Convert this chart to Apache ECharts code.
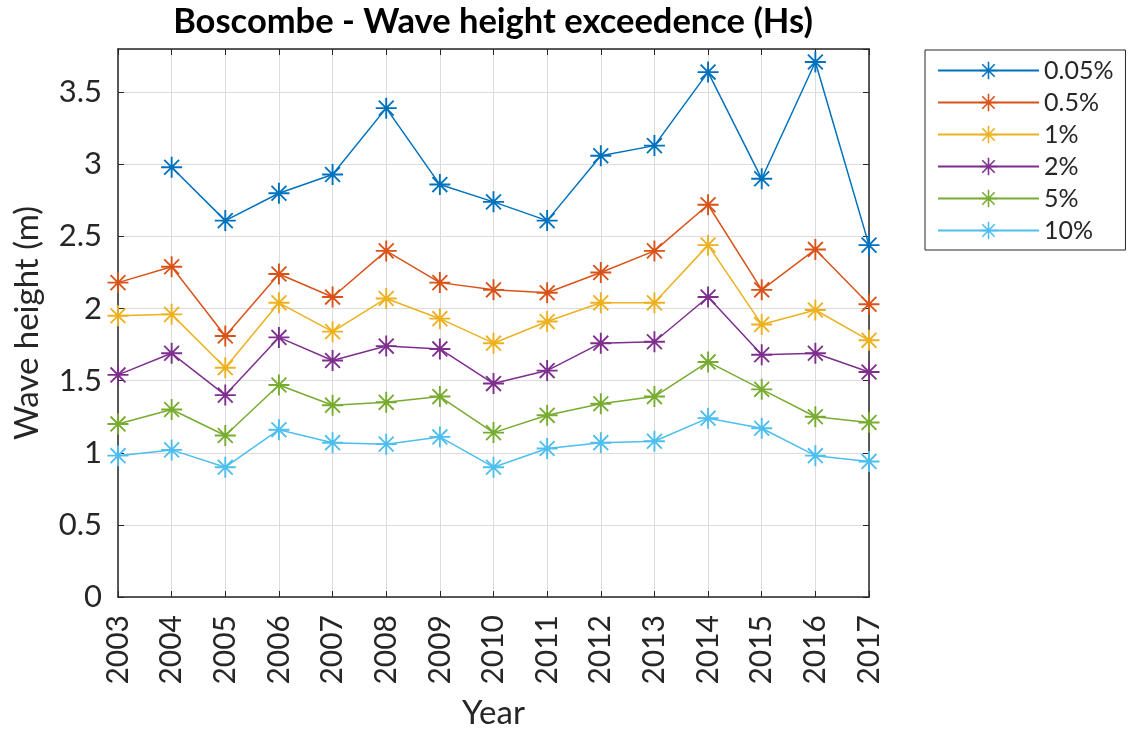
<!DOCTYPE html>
<html>
<head>
<meta charset="utf-8">
<script src="https://cdn.jsdelivr.net/npm/echarts@6/dist/echarts.min.js"></script>
<style>
html,body{margin:0;padding:0;background:#fff;}
#chart{width:1128px;height:735px;}
</style>
</head>
<body>
<div id="chart"></div>
<script>
const years = ['2003','2004','2005','2006','2007','2008','2009','2010','2011','2012','2013','2014','2015','2016','2017'];
const seriesNames = ['0.05%','0.5%','1%','2%','5%','10%'];
const s005 = [null,2.98,2.61,2.80,2.93,3.39,2.86,2.74,2.61,3.06,3.13,3.64,2.90,3.71,2.44];
const s05  = [2.18,2.29,1.81,2.24,2.08,2.40,2.18,2.13,2.11,2.25,2.40,2.72,2.13,2.41,2.03];
const s1   = [1.95,1.96,1.59,2.04,1.84,2.07,1.93,1.76,1.91,2.04,2.04,2.44,1.89,1.99,1.78];
const s2   = [1.54,1.69,1.40,1.80,1.64,1.74,1.72,1.48,1.57,1.76,1.77,2.08,1.68,1.69,1.56];
const s5   = [1.20,1.30,1.12,1.47,1.33,1.35,1.39,1.14,1.26,1.34,1.39,1.63,1.44,1.25,1.21];
const s10  = [0.98,1.02,0.90,1.16,1.07,1.06,1.11,0.90,1.03,1.07,1.08,1.24,1.17,0.98,0.94];
const allSeries = [s005, s05, s1, s2, s5, s10];
const colors = ['#0072BD','#D95319','#EDB120','#7E2F8E','#77AC30','#4DBEEE'];

const asterisk = 'path://M0 45.5 L0 54.5 L100 54.5 L100 45.5 Z M45.5 0 L45.5 100 L54.5 100 L54.5 0 Z M11.5 17.7 L82.3 88.5 L88.5 82.3 L17.7 11.5 Z M17.7 88.5 L88.5 17.7 L82.3 11.5 L11.5 82.3 Z';
const axisColor = '#262626';
const font = 'Lato';

const chart = echarts.init(document.getElementById('chart'), null, {renderer:'canvas'});
const option = {
  animation: false,
  backgroundColor: '#ffffff',
  title: {
    text: 'Boscombe - Wave height exceedence (Hs)',
    left: 493, top: 4, padding: 0, textAlign: 'center',
    textStyle: {fontFamily: font, fontWeight: 'bold', fontSize: 34.5, color: '#000'}
  },
  legend: {
    orient: 'vertical',
    left: 925, top: 50,
    padding: [8, 12, 7, 12],
    itemWidth: 101, itemHeight: 22, itemGap: 7,
    borderColor: axisColor, borderWidth: 1, backgroundColor: '#fff',
    textStyle: {fontFamily: font, fontSize: 25, color: axisColor},
    data: seriesNames
  },
  grid: {left: 118, right: 259, top: 49, bottom: 137, containLabel: false},
  xAxis: [{
    type: 'category', data: years, boundaryGap: false,
    name: 'Year', nameLocation: 'middle', nameGap: 100,
    nameTextStyle: {fontFamily: font, fontSize: 33, color: axisColor},
    axisLine: {show: true, lineStyle: {color: axisColor, width: 1.5}},
    axisTick: {show: true, inside: true, length: 6, lineStyle: {color: axisColor}},
    axisLabel: {rotate: 90, margin: 18, fontFamily: font, fontSize: 30, color: axisColor, interval: 0},
    splitLine: {show: true, lineStyle: {color: '#dcdcdc', width: 1}}
  },{
    type: 'category', data: years, boundaryGap: false, position: 'top',
    axisLine: {show: true, onZero: false, lineStyle: {color: axisColor, width: 1.5}},
    axisTick: {show: true, inside: true, length: 6, lineStyle: {color: axisColor}},
    axisLabel: {show: false}, splitLine: {show: false}
  }],
  yAxis: [{
    type: 'value', min: 0, max: 3.8, interval: 0.5,
    name: 'Wave height (m)', nameLocation: 'middle', nameGap: 74,
    nameTextStyle: {fontFamily: font, fontSize: 33, color: axisColor},
    axisLine: {show: true, lineStyle: {color: axisColor, width: 1.5}},
    axisTick: {show: true, inside: true, length: 6, lineStyle: {color: axisColor}},
    axisLabel: {margin: 16, fontFamily: font, fontSize: 31, color: axisColor, showMaxLabel: false},
    splitLine: {show: true, lineStyle: {color: '#dcdcdc', width: 1}}
  },{
    type: 'value', min: 0, max: 3.8, interval: 0.5, position: 'right',
    axisLine: {show: true, onZero: false, lineStyle: {color: axisColor, width: 1.5}},
    axisTick: {show: true, inside: true, length: 6, lineStyle: {color: axisColor}},
    axisLabel: {show: false}, splitLine: {show: false}
  }],
  series: seriesNames.map((name, i) => ({
    name: name,
    type: 'line',
    data: allSeries[i],
    xAxisIndex: 0, yAxisIndex: 0,
    symbol: asterisk,
    symbolSize: 21,
    showAllSymbol: true,
    connectNulls: false,
    lineStyle: {color: colors[i], width: 1.5},
    itemStyle: {color: colors[i]},
    emphasis: {disabled: true}
  }))
};
chart.setOption(option);
</script>
</body>
</html>
